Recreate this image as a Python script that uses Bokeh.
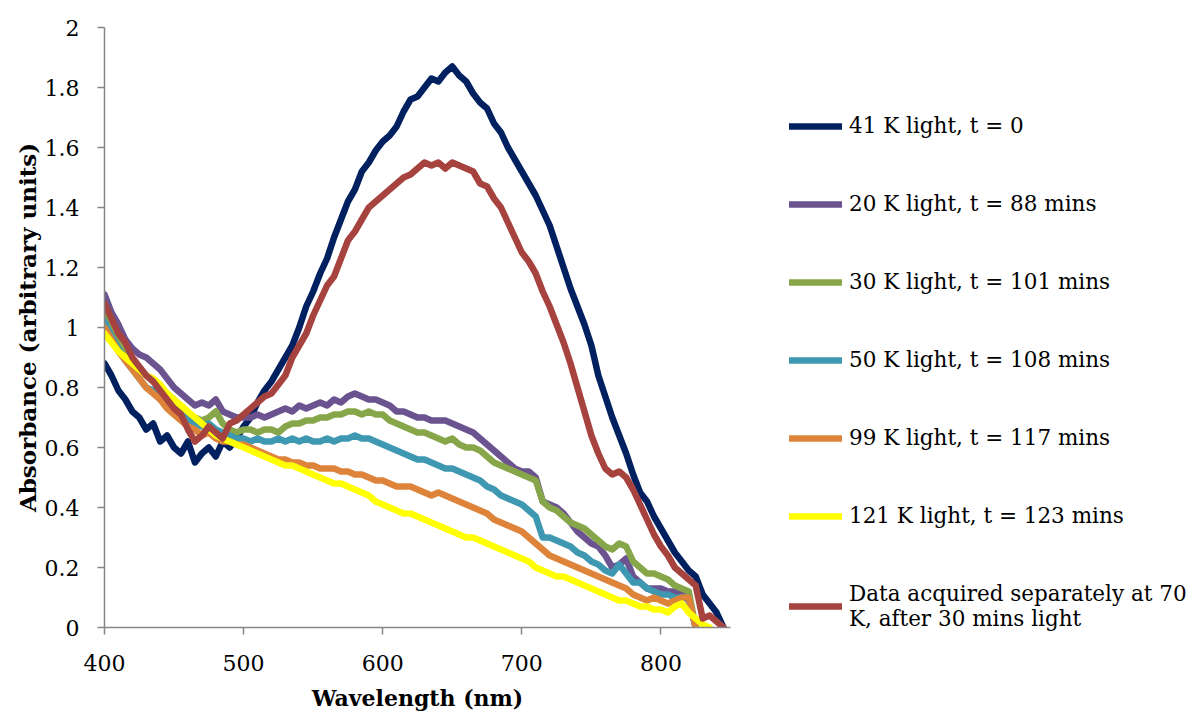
from bokeh.plotting import figure
from bokeh.models import Legend, LegendItem, FixedTicker, NumeralTickFormatter, Range1d
from bokeh.embed import file_html
from bokeh.resources import INLINE

step = 5
wl = list(range(400, 850, step))

navy_41K = [0.88, 0.84, 0.79, 0.76, 0.72, 0.70, 0.66, 0.68, 0.62, 0.64, 0.60, 0.58, 0.62, 0.55, 0.58, 0.60, 0.57, 0.62, 0.60, 0.63,
            0.67, 0.70, 0.75, 0.79, 0.82, 0.86, 0.90, 0.94, 1.00, 1.07, 1.12, 1.18, 1.23, 1.30, 1.36, 1.42, 1.46, 1.52, 1.55, 1.59,
            1.62, 1.64, 1.67, 1.72, 1.76, 1.77, 1.80, 1.83, 1.82, 1.85, 1.87, 1.84, 1.82, 1.78, 1.75, 1.73, 1.68, 1.65, 1.60, 1.56,
            1.52, 1.48, 1.44, 1.39, 1.34, 1.27, 1.20, 1.13, 1.07, 1.01, 0.94, 0.84, 0.77, 0.70, 0.64, 0.58, 0.51, 0.45, 0.42, 0.37,
            0.33, 0.29, 0.25, 0.22, 0.19, 0.17, 0.11, 0.08, 0.05, 0.0]

red_70K = [1.08, 1.03, 0.98, 0.95, 0.90, 0.87, 0.84, 0.82, 0.79, 0.76, 0.73, 0.71, 0.66, 0.62, 0.64, 0.67, 0.65, 0.63, 0.68, 0.69,
           0.71, 0.73, 0.75, 0.77, 0.78, 0.81, 0.84, 0.90, 0.94, 0.98, 1.04, 1.09, 1.14, 1.17, 1.23, 1.29, 1.32, 1.36, 1.40, 1.42,
           1.44, 1.46, 1.48, 1.50, 1.51, 1.53, 1.55, 1.54, 1.55, 1.53, 1.55, 1.54, 1.53, 1.52, 1.48, 1.47, 1.43, 1.40, 1.35, 1.30,
           1.25, 1.22, 1.18, 1.12, 1.07, 1.01, 0.95, 0.88, 0.80, 0.72, 0.64, 0.58, 0.53, 0.51, 0.52, 0.50, 0.46, 0.41, 0.36, 0.31,
           0.27, 0.24, 0.20, 0.18, 0.16, 0.14, 0.03, 0.04, 0.02, 0.0]

purple_20K = [1.11, 1.05, 1.01, 0.96, 0.93, 0.91, 0.90, 0.88, 0.86, 0.83, 0.80, 0.78, 0.76, 0.74, 0.75, 0.74, 0.76, 0.72, 0.71, 0.70,
              0.70, 0.70, 0.71, 0.70, 0.71, 0.72, 0.73, 0.72, 0.74, 0.73, 0.74, 0.75, 0.74, 0.76, 0.75, 0.77, 0.78, 0.77, 0.76, 0.76,
              0.75, 0.74, 0.72, 0.72, 0.71, 0.70, 0.70, 0.69, 0.69, 0.69, 0.68, 0.67, 0.66, 0.65, 0.63, 0.61, 0.59, 0.57, 0.55, 0.53,
              0.52, 0.52, 0.50, 0.42, 0.41, 0.40, 0.38, 0.35, 0.32, 0.30, 0.28, 0.27, 0.24, 0.20, 0.21, 0.23, 0.17, 0.15, 0.13, 0.13,
              0.13, 0.12, 0.12, 0.11, 0.09, 0.0]

green_30K = [1.05, 1.00, 0.96, 0.92, 0.89, 0.86, 0.84, 0.82, 0.80, 0.78, 0.76, 0.73, 0.71, 0.70, 0.69, 0.70, 0.72, 0.68, 0.66, 0.65,
             0.66, 0.66, 0.65, 0.66, 0.66, 0.65, 0.67, 0.68, 0.68, 0.69, 0.69, 0.70, 0.70, 0.71, 0.71, 0.72, 0.72, 0.71, 0.72, 0.71,
             0.71, 0.69, 0.68, 0.67, 0.66, 0.65, 0.65, 0.64, 0.63, 0.62, 0.63, 0.61, 0.60, 0.60, 0.59, 0.57, 0.55, 0.54, 0.53, 0.52,
             0.51, 0.50, 0.49, 0.42, 0.40, 0.39, 0.37, 0.35, 0.34, 0.33, 0.31, 0.29, 0.27, 0.26, 0.28, 0.27, 0.22, 0.20, 0.18, 0.18,
             0.17, 0.16, 0.14, 0.13, 0.12, 0.0]

teal_50K = [1.02, 0.97, 0.93, 0.89, 0.86, 0.83, 0.80, 0.79, 0.77, 0.75, 0.73, 0.71, 0.69, 0.68, 0.67, 0.68, 0.66, 0.65, 0.64, 0.63,
            0.63, 0.62, 0.63, 0.62, 0.62, 0.63, 0.62, 0.63, 0.62, 0.63, 0.62, 0.62, 0.63, 0.62, 0.63, 0.63, 0.64, 0.63, 0.63, 0.62,
            0.61, 0.60, 0.59, 0.58, 0.57, 0.56, 0.56, 0.55, 0.54, 0.53, 0.53, 0.52, 0.51, 0.50, 0.49, 0.47, 0.46, 0.44, 0.43, 0.42,
            0.41, 0.39, 0.37, 0.30, 0.30, 0.29, 0.28, 0.27, 0.25, 0.24, 0.22, 0.21, 0.19, 0.18, 0.21, 0.18, 0.15, 0.15, 0.13, 0.12,
            0.11, 0.11, 0.10, 0.10, 0.10, 0.0]

orange_99K = [1.00, 0.96, 0.92, 0.89, 0.86, 0.83, 0.80, 0.78, 0.76, 0.73, 0.71, 0.69, 0.67, 0.66, 0.64, 0.65, 0.63, 0.62, 0.62, 0.61,
              0.61, 0.60, 0.59, 0.58, 0.57, 0.56, 0.56, 0.55, 0.55, 0.54, 0.54, 0.53, 0.53, 0.53, 0.52, 0.52, 0.51, 0.51, 0.50, 0.49,
              0.49, 0.48, 0.47, 0.47, 0.47, 0.46, 0.45, 0.44, 0.45, 0.44, 0.43, 0.42, 0.41, 0.40, 0.39, 0.38, 0.36, 0.35, 0.34, 0.33,
              0.32, 0.30, 0.28, 0.26, 0.24, 0.23, 0.22, 0.21, 0.20, 0.19, 0.18, 0.17, 0.16, 0.15, 0.14, 0.13, 0.11, 0.10, 0.09, 0.10,
              0.09, 0.08, 0.09, 0.10, 0.10, 0.0]

yellow_121K = [0.98, 0.95, 0.92, 0.90, 0.88, 0.86, 0.84, 0.83, 0.81, 0.78, 0.76, 0.74, 0.72, 0.70, 0.68, 0.66, 0.64, 0.63, 0.62, 0.61,
               0.60, 0.59, 0.58, 0.57, 0.56, 0.55, 0.54, 0.54, 0.53, 0.52, 0.51, 0.50, 0.49, 0.48, 0.48, 0.47, 0.46, 0.45, 0.44, 0.42,
               0.41, 0.40, 0.39, 0.38, 0.38, 0.37, 0.36, 0.35, 0.34, 0.33, 0.32, 0.31, 0.30, 0.30, 0.29, 0.28, 0.27, 0.26, 0.25, 0.24,
               0.23, 0.22, 0.20, 0.19, 0.18, 0.17, 0.17, 0.16, 0.15, 0.14, 0.13, 0.12, 0.11, 0.10, 0.09, 0.09, 0.08, 0.07, 0.07, 0.06,
               0.06, 0.05, 0.07, 0.08, 0.05, 0.03, 0.01, 0.0]

series = [
    ("41 K light, t = 0", navy_41K, "#012060"),
    ("20 K light, t = 88 mins", purple_20K, "#6B5390"),
    ("30 K light, t = 101 mins", green_30K, "#87A64A"),
    ("50 K light, t = 108 mins", teal_50K, "#3E98B1"),
    ("99 K light, t = 117 mins", orange_99K, "#DE843A"),
    ("121 K light, t = 123 mins", yellow_121K, "#FFFF00"),
    ("Data acquired separately at 70\nK, after 30 mins light", red_70K, "#A7433F"),
]

x_ticks = [400, 500, 600, 700, 800]
y_ticks = [0, 0.2, 0.4, 0.6, 0.8, 1.0, 1.2, 1.4, 1.6, 1.8, 2.0]

FONT = "DejaVu Serif"

p = figure(frame_width=626, frame_height=600, output_backend="svg", toolbar_location=None,
           x_range=Range1d(400, 850), y_range=Range1d(0, 2),
           min_border_left=104, min_border_top=27, min_border_bottom=60, min_border_right=455)
p.outline_line_color = None
p.xgrid.visible = False
p.ygrid.visible = False

items = []
for label, ys, color in series:
    r = p.line(wl[:len(ys)], ys, line_color=color, line_width=6.5, line_join="round", line_cap="round")
    items.append(LegendItem(label=label, renderers=[r]))

for ax in (p.xaxis[0], p.yaxis[0]):
    ax.axis_line_color = "#868686"
    ax.axis_line_width = 1.5
    ax.major_tick_line_color = "#868686"
    ax.major_tick_line_width = 1.5
    ax.major_tick_in = 0
    ax.major_tick_out = 7
    ax.minor_tick_line_color = None
    ax.major_label_text_font = FONT
    ax.major_label_text_font_size = "22px"
    ax.major_label_text_color = "black"
    ax.axis_label_text_font = FONT
    ax.axis_label_text_font_style = "bold"
    ax.axis_label_text_color = "black"

p.xaxis.axis_label_text_font_size = "22px"
p.yaxis.axis_label_text_font_size = "23px"
p.xaxis.ticker = FixedTicker(ticks=x_ticks)
p.yaxis.ticker = FixedTicker(ticks=y_ticks)
p.yaxis.formatter = NumeralTickFormatter(format="0.[0]")
p.xaxis.axis_label = "Wavelength (nm)"
p.yaxis.axis_label = "Absorbance (arbitrary units)"
p.xaxis.major_label_standoff = 20
p.yaxis.major_label_standoff = 18
p.xaxis.axis_label_standoff = 11
p.yaxis.axis_label_standoff = 1

legend = Legend(items=items, location=(59, -4), border_line_color=None, background_fill_alpha=0,
                label_text_font=FONT, label_text_font_size="21.5px", label_text_color="black",
                label_text_line_height=1.6, label_standoff=7,
                glyph_width=53, glyph_height=24, label_height=24, spacing=53, padding=10, margin=0)
p.add_layout(legend, "right")

open("out.html", "w").write(file_html(p, INLINE))
